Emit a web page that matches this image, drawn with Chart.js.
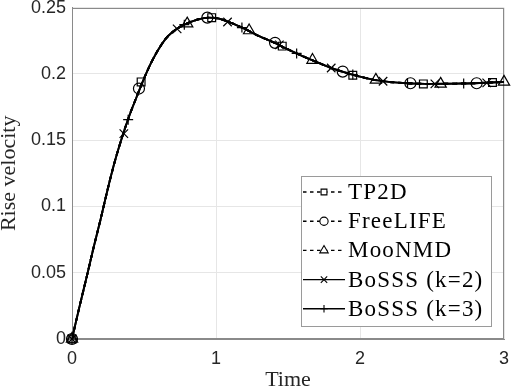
<!DOCTYPE html>
<html>
<head>
<meta charset="utf-8">
<script src="https://cdn.jsdelivr.net/npm/chart.js@4"></script>
<style>
  html, body { margin: 0; padding: 0; background: #fff; }
</style>
</head>
<body>
<canvas id="riseChart" width="512" height="389"></canvas>
<script>
// ----------------------
// Data
// ----------------------
const seriesNames = ["TP2D", "FreeLIFE", "MooNMD", "BoSSS (k=2)", "BoSSS (k=3)"];

// the common rise-velocity curve
const curveTime = [0, 0.05, 0.1, 0.15, 0.2, 0.25, 0.3, 0.35, 0.4, 0.45, 0.5, 0.55, 0.6, 0.65, 0.7,
  0.75, 0.8, 0.85, 0.9, 0.95, 1.0, 1.1, 1.2, 1.3, 1.4, 1.5, 1.6, 1.7, 1.8, 1.9, 2.0,
  2.1, 2.2, 2.3, 2.4, 2.5, 2.6, 2.7, 2.8, 2.9, 3.0];
const curveVelocity = [0, 0.0235, 0.046, 0.069, 0.091, 0.114, 0.135, 0.153, 0.169, 0.183, 0.1965, 0.2085, 0.2185, 0.2265, 0.2318,
  0.2355, 0.2382, 0.2403, 0.2418, 0.2425, 0.2422, 0.2388, 0.234, 0.2285, 0.2238, 0.2185, 0.2135, 0.209, 0.2045, 0.201, 0.198,
  0.1955, 0.194, 0.1932, 0.1927, 0.1925, 0.1926, 0.1928, 0.193, 0.1935, 0.194];

// marker samples for each code
const tp2dTime = [0, 0.48, 0.97, 1.46, 1.95, 2.44, 2.92];
const tp2dVelocity = [0, 0.194, 0.2425, 0.221, 0.199, 0.1925, 0.1935];

const freelifeTime = [0, 0.465, 0.94, 1.41, 1.88, 2.35, 2.81];
const freelifeVelocity = [0, 0.189, 0.2425, 0.2235, 0.2018, 0.193, 0.193];

const moonmdTime = [0, 0.8, 1.23, 1.67, 2.11, 2.56, 3.0];
const moonmdVelocity = [0, 0.238, 0.2328, 0.2105, 0.1955, 0.1925, 0.194];

const bosss2Time = [0, 0.36, 0.73, 1.08, 1.44, 1.8, 2.16, 2.52, 2.88];
const bosss2Velocity = [0, 0.155, 0.234, 0.2392, 0.222, 0.2045, 0.1945, 0.1925, 0.1933];

const bosss3Time = [0, 0.39, 0.78, 1.18, 1.56, 1.95, 2.33, 2.72];
const bosss3Velocity = [0, 0.1655, 0.2372, 0.235, 0.2155, 0.1995, 0.1932, 0.1928];

const xTickLabels = ["0", "1", "2", "3"];
const yTickLabels = ["0", "0.05", "0.1", "0.15", "0.2", "0.25"];

// ----------------------
// Styles
// ----------------------
const looks = [
  { dash: [5, 4], point: "rect", r: 5.5 },
  { dash: [5, 4], point: "circle", r: 5.5 },
  { dash: [5, 4], point: "triangle", r: 6.5 },
  { dash: [], point: "crossRot", r: 6 },
  { dash: [], point: "cross", r: 5 }
];

const markerTimes = [tp2dTime, freelifeTime, moonmdTime, bosss2Time, bosss3Time];
const markerVelocities = [tp2dVelocity, freelifeVelocity, moonmdVelocity, bosss2Velocity, bosss3Velocity];

const toXY = (ts, vs) => ts.map((t, i) => ({ x: t, y: vs[i] }));

const datasets = [];
seriesNames.forEach((name, i) => {
  datasets.push({
    label: name,
    data: toXY(curveTime, curveVelocity),
    showLine: true,
    borderColor: "#000",
    borderWidth: 1.9,
    borderDash: looks[i].dash,
    pointRadius: 0,
    cubicInterpolationMode: "monotone",
    fill: false
  });
  datasets.push({
    label: name + " markers",
    data: toXY(markerTimes[i], markerVelocities[i]),
    showLine: false,
    pointStyle: looks[i].point,
    pointRadius: looks[i].r,
    pointBorderColor: "#000",
    pointBackgroundColor: "rgba(0,0,0,0)",
    pointBorderWidth: 1.2,
    clip: false
  });
});

// ----------------------
// Plugins: box frame + legend inside the plot
// ----------------------
const frame = {
  id: "frame",
  beforeDatasetsDraw(chart) {
    const { ctx, chartArea: a } = chart;
    ctx.save();
    ctx.strokeStyle = "#8a8a8a";
    ctx.lineWidth = 1;
    ctx.strokeRect(Math.round(a.left) + 0.5, Math.round(a.top) + 0.5,
      Math.round(a.right - a.left) - 1, Math.round(a.bottom - a.top) - 1);
    ctx.restore();
  }
};

const boxLegend = {
  id: "boxLegend",
  afterDraw(chart) {
    const { ctx, chartArea: a } = chart;
    const left = Math.round(a.right) - 203, top = Math.round(a.bottom) - 163;
    const w = 190, h = 150;
    ctx.save();
    ctx.fillStyle = "#fff";
    ctx.fillRect(left, top, w, h);
    ctx.strokeStyle = "#9a9a9a";
    ctx.lineWidth = 1;
    ctx.strokeRect(left + 0.5, top + 0.5, w, h);
    ctx.font = '23px "Liberation Serif"';
    ctx.letterSpacing = "1.2px";
    ctx.textBaseline = "middle";
    seriesNames.forEach((name, i) => {
      const y = top + 16 + i * 29.2;
      ctx.strokeStyle = "#000";
      ctx.lineWidth = 1.4;
      ctx.setLineDash(looks[i].dash.length ? [3.5, 3.5] : []);
      ctx.beginPath();
      ctx.moveTo(left + 2, y);
      ctx.lineTo(left + 44, y);
      ctx.stroke();
      ctx.setLineDash([]);
      ctx.fillStyle = "#fff";
      ctx.lineWidth = 1.1;
      Chart.helpers.drawPoint(ctx, {
        pointStyle: looks[i].point, radius: looks[i].r * 0.75, rotation: 0, borderWidth: 1.1
      }, left + 23, y);
      ctx.fillStyle = "#000";
      ctx.fillText(name, left + 47, y + 1);
    });
    ctx.restore();
  }
};

// ----------------------
// Chart
// ----------------------
new Chart(document.getElementById("riseChart"), {
  type: "scatter",
  data: { datasets },
  plugins: [frame, boxLegend],
  options: {
    responsive: false,
    animation: false,
    devicePixelRatio: 1,
    events: [],
    layout: { padding: { top: 7, right: 8, left: 0, bottom: 0 } },
    plugins: {
      legend: { display: false },
      tooltip: { enabled: false }
    },
    scales: {
      x: {
        type: "linear",
        min: 0,
        max: 3,
        ticks: {
          stepSize: 1,
          padding: 9,
          color: "#262626",
          font: { family: "Liberation Sans", size: 18 },
          callback: (v, i) => xTickLabels[i]
        },
        grid: { color: "#e6e6e6", drawTicks: false },
        border: { color: "#8a8a8a", width: 1 },
        title: {
          display: true,
          text: "Time",
          color: "#262626",
          font: { family: "Liberation Serif", size: 22, lineHeight: 0.8 },
          padding: { top: 0, bottom: 0 }
        },
        afterFit(s) { s.height = 50; s.paddingLeft = 0; s.paddingRight = 0; }
      },
      y: {
        min: 0,
        max: 0.25,
        ticks: {
          stepSize: 0.05,
          padding: 6,
          color: "#262626",
          font: { family: "Liberation Sans", size: 18 },
          callback: (v, i) => yTickLabels[i]
        },
        grid: { color: "#e6e6e6", drawTicks: false },
        border: { color: "#8a8a8a", width: 1 },
        title: {
          display: true,
          text: "Rise velocity",
          color: "#262626",
          font: { family: "Liberation Serif", size: 22, lineHeight: 0.8 },
          padding: { top: 0, bottom: 0 }
        },
        afterFit(s) { s.width = 72; s.paddingTop = 0; s.paddingBottom = 0; }
      }
    }
  }
});
</script>
</body>
</html>
